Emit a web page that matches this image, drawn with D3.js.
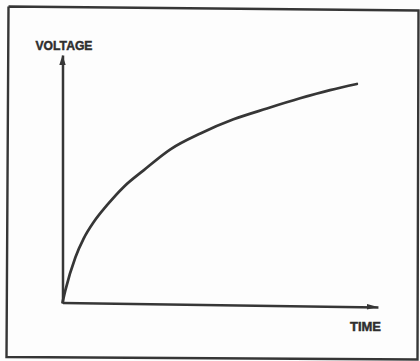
<!DOCTYPE html>
<html>
<head>
<meta charset="utf-8">
<script src="https://cdn.jsdelivr.net/npm/d3@7/dist/d3.min.js"></script>
<style>
  html, body { margin: 0; padding: 0; background: #fdfdfd; }
  svg { display: block; }
  text { font-family: "Liberation Sans", Arial, sans-serif; font-weight: bold; fill: #2e2e2e; stroke: #2e2e2e; stroke-width: 0.45; }
</style>
</head>
<body>
<svg id="chart" width="420" height="361"></svg>
<script>
// Charging curve: voltage rising over time (arbitrary units, 0–100 on each axis)
const time    = [0, 0.9, 4.1, 6.7, 9.9, 14.1, 19.4, 25.7, 34.2, 43.7, 54.2, 64.8, 75.3, 84.8, 93.3];
const voltage = [0, 4.9, 18.3, 25.8, 32.5, 39.3, 46.7, 53.4, 61.9, 68.3, 74.0, 78.4, 82.5, 85.8, 88.3];
const axisLabels = ["VOLTAGE", "TIME"];

const ink = "#363636";
const svg = d3.select("#chart");

// Hand-drawn looking outer frame
const frame = [[8.5, 6.5], [418.5, 10.5], [417.5, 359.5], [6.5, 357], [8.5, 6.5]];
svg.append("path")
  .attr("d", d3.line()(frame))
  .attr("fill", "none")
  .attr("stroke", ink)
  .attr("stroke-width", 2.4)
  .attr("stroke-linejoin", "miter");

const x = d3.scaleLinear().domain([0, 100]).range([62.5, 378]);
const y = d3.scaleLinear().domain([0, 100]).range([302.5, 55]);

// Vertical axis (voltage)
const yAxis = svg.append("g")
  .attr("transform", `translate(${x(0)},0)`)
  .call(d3.axisLeft(y).tickValues([]).tickSizeOuter(0));
yAxis.select(".domain").attr("stroke", ink).attr("stroke-width", 2.5);
yAxis.append("path")
  .attr("d", `M0,${y(100)} L-3.2,${y(100) + 10} L3.2,${y(100) + 10} Z`)
  .attr("fill", ink);

// Horizontal axis (time), drawn with the slight slant of the original sketch
const xAxis = svg.append("g")
  .attr("transform", `rotate(0.8, ${x(0)}, ${y(0)}) translate(0,${y(0)})`)
  .call(d3.axisBottom(x).tickValues([]).tickSizeOuter(0));
xAxis.select(".domain").attr("stroke", ink).attr("stroke-width", 2.5);
xAxis.append("path")
  .attr("d", `M${x(100)},0 L${x(100) - 11},-2.8 L${x(100) - 11},2.8 Z`)
  .attr("fill", ink);

// Axis titles
svg.append("text")
  .attr("x", 35.5).attr("y", 49.5)
  .attr("font-size", 12.5)
  .attr("textLength", 57).attr("lengthAdjust", "spacingAndGlyphs")
  .text(axisLabels[0]);
svg.append("text")
  .attr("x", 350).attr("y", 331)
  .attr("font-size", 12.5)
  .attr("textLength", 31).attr("lengthAdjust", "spacingAndGlyphs")
  .text(axisLabels[1]);

// The curve
const pts = time.map((t, i) => [t, voltage[i]]);
svg.append("path")
  .datum(pts)
  .attr("d", d3.line().x(d => x(d[0])).y(d => y(d[1])).curve(d3.curveMonotoneX))
  .attr("fill", "none")
  .attr("stroke", ink)
  .attr("stroke-width", 2.7)
  .attr("stroke-linecap", "round");
</script>
</body>
</html>
